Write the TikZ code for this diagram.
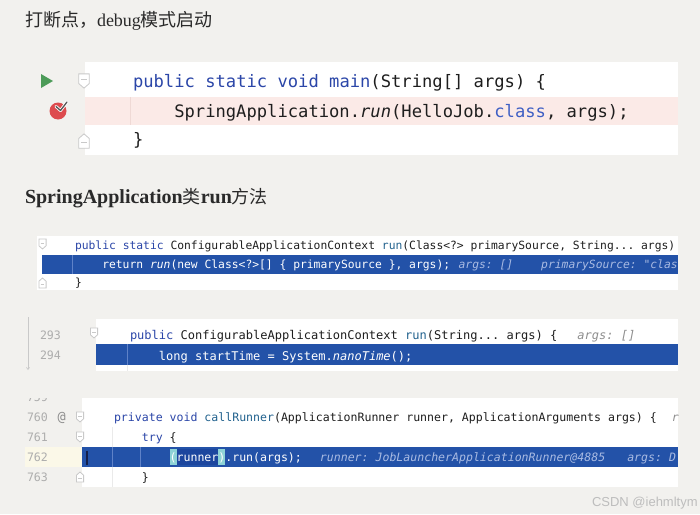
\documentclass[tikz,border=0pt]{standalone}
\usepackage{fontspec}
\setmainfont{Liberation Serif}
\setmonofont{DejaVu Sans Mono}
\newfontfamily\cjk{Noto Sans CJK SC}
\newfontfamily\wmfont{Liberation Sans}
\usetikzlibrary{arrows.meta}
\definecolor{bg}{HTML}{F2F1EE}
\definecolor{titlec}{HTML}{2A2A2A}
\definecolor{kwc}{HTML}{2B46A8}
\definecolor{kwl}{HTML}{3F5FC4}
\definecolor{fndc}{HTML}{22628E}
\definecolor{txtc}{HTML}{1E1E1E}
\definecolor{pinkrow}{HTML}{FBEAE7}
\definecolor{pinkguide}{HTML}{EFD9D5}
\definecolor{hl}{HTML}{2352A8}
\definecolor{hlguide}{HTML}{5F82C8}
\definecolor{hintc}{HTML}{A9BBE3}
\definecolor{grayhint}{HTML}{8E8E8E}
\definecolor{lnum}{HTML}{ADADAD}
\definecolor{foldc}{HTML}{C9C9C9}
\definecolor{cream}{HTML}{FBF8E8}
\definecolor{bmatch}{HTML}{8DD3D6}
\definecolor{runnerbg}{HTML}{1C469E}
\definecolor{bpred}{HTML}{DD4B4E}
\definecolor{checkgray}{HTML}{555555}
\definecolor{rungreen}{HTML}{4C9B58}
\definecolor{wmc}{HTML}{BDBDBD}
\definecolor{guidec}{HTML}{EAEAEA}
\definecolor{caretc}{HTML}{15204A}
\newcommand\kw[1]{\textcolor{kwc}{#1}}
\newcommand\kwlight[1]{\textcolor{kwl}{#1}}
\newcommand\fnd[1]{\textcolor{fndc}{#1}}
\newcommand\hnt[1]{\textcolor{hintc}{\itshape #1}}
\newcommand\ghnt[1]{\textcolor{grayhint}{\itshape #1}}
% fold markers: x, y, size
\newcommand\foldopen[3]{%
  \draw[foldc, fill=white, line width=0.8pt] (#1-0.4*#3,#2-0.55*#3) -- (#1+0.4*#3,#2-0.55*#3) -- (#1+0.4*#3,#2+0.2*#3) -- (#1,#2+0.55*#3) -- (#1-0.4*#3,#2+0.2*#3) -- cycle;
  \draw[foldc, line width=0.8pt] (#1-0.2*#3,#2-0.1*#3) -- (#1+0.2*#3,#2-0.1*#3);}
\newcommand\foldclose[3]{%
  \draw[foldc, fill=white, line width=0.8pt] (#1-0.4*#3,#2+0.55*#3) -- (#1+0.4*#3,#2+0.55*#3) -- (#1+0.4*#3,#2-0.2*#3) -- (#1,#2-0.55*#3) -- (#1-0.4*#3,#2-0.2*#3) -- cycle;
  \draw[foldc, line width=0.8pt] (#1-0.2*#3,#2+0.1*#3) -- (#1+0.2*#3,#2+0.1*#3);}
\begin{document}
\begin{tikzpicture}[x=1pt,y=-1pt,
  txt/.style={anchor=base west, inner sep=0pt, outer sep=0pt},
  codeA/.style={txt, text=txtc, font=\ttfamily\fontsize{17.15}{20}\selectfont},
  codeB/.style={txt, text=txtc, font=\ttfamily\fontsize{11.33}{13}\selectfont},
  codeC/.style={txt, text=txtc, font=\ttfamily\fontsize{12.03}{14}\selectfont},
  codeD/.style={txt, text=txtc, font=\ttfamily\fontsize{11.56}{13}\selectfont},
  lno/.style={txt, text=lnum, font=\ttfamily\fontsize{11.6}{13}\selectfont},
  hlg/.style={hlguide, line width=0.7pt},
  wg/.style={guidec, line width=0.7pt}]
\fill[bg] (0,0) rectangle (700,514);
\useasboundingbox (0,0) rectangle (700,514);

% ---------- titles
\node[txt, text=titlec, font=\fontsize{18}{20}\selectfont] (t1) at (25,26.5)
  {\cjk 打断点，\rmfamily debug\cjk 模式启动};
\node[txt, text=titlec, font=\fontsize{20}{22}\selectfont\bfseries] (t2) at (25,203)
  {SpringApplication{\cjk\mdseries\fontsize{18}{20}\selectfont 类}run{\cjk\mdseries\fontsize{18}{20}\selectfont 方法}};

% ---------- panel 1
\fill[white] (85,62) rectangle (678,155);
\fill[pinkrow] (85,97) rectangle (678,125);
\draw[pinkguide, line width=0.7pt] (130,97) -- (130,125);
\fill[rungreen] (41,74) -- (53,81) -- (41,88) -- cycle;
\fill[bpred] (58,111) circle (8.5);
\draw[white, line width=3pt, line cap=round, line join=round] (56,106.5) -- (60.5,110.5) -- (67,102);
\draw[checkgray, line width=1.3pt, line cap=round, line join=round] (56,106.5) -- (60.5,110.5) -- (67,102);
\foldopen{84}{81}{13}
\foldclose{84}{141}{13}
\node[codeA] (p1a) at (133,87) {\kw{public}~\kw{static}~\kw{void}~\kw{main}(String[]~args)~\{};
\node[codeA] (p1b) at (133,117) {~~~~SpringApplication.\textit{run}(HelloJob.\kwlight{class},~args);};
\node[codeA] (p1c) at (133,145) {\}};

% ---------- panel 2
\fill[white] (37,236) rectangle (678,290);
\fill[hl] (42,255) rectangle (678,274);
\draw[hlg] (72,255) -- (72,274);
\foldopen{42.5}{244}{9}
\foldclose{42.5}{283}{9}
\begin{scope}
\clip (37,236) rectangle (678,290);
\node[codeB] (p2a) at (75,249) {\kw{public}~\kw{static}~ConfigurableApplicationContext~\fnd{run}(Class<?>~primarySource,~String...~args)};
\node[codeB, text=white] (p2b) at (75,268) {~~~~return~\textit{run}(new~Class<?>[]~\{~primarySource~\},~args);\hspace{8.5pt}\hnt{args:~[]}\hspace{28pt}\hnt{primarySource:~"clas}};
\node[codeB] (p2c) at (75,286) {\}};
\end{scope}

% ---------- panel 3
\draw[foldc, line width=0.7pt, -{Straight Barb[length=2pt,width=3pt]}] (28,317) -- (28,370);
\fill[white] (96,319) rectangle (678,371);
\fill[hl] (96,344) rectangle (678,365);
\draw[hlg] (127,344) -- (127,365);
\draw[wg] (127,365) -- (127,371);
\foldopen{94}{333}{9}
\node[lno] (n293) at (40,339) {293};
\node[lno] (n294) at (40,359) {294};
\node[codeC] (p3a) at (130,339) {\kw{public}~ConfigurableApplicationContext~\fnd{run}(String...~args)~\{\hspace{20pt}\ghnt{args:~[]}};
\node[codeC, text=white] (p3b) at (130,360) {~~~~long~startTime~=~System.\textit{nanoTime}();};

% ---------- panel 4
\fill[white] (82,398) rectangle (678,487);
\fill[cream] (25,447) rectangle (82,467);
\fill[hl] (82,447) rectangle (678,467);
\draw[wg] (112,427) -- (112,447);
\draw[wg] (112,467) -- (112,487);
\draw[hlg] (112,447) -- (112,467);
\draw[hlg] (140,447) -- (140,467);
\fill[bmatch] (170,449) rectangle (176.6,465);
\fill[runnerbg] (176.6,449) rectangle (218.4,465);
\fill[bmatch] (218.4,449) rectangle (225,465);
\draw[caretc, line width=1.5pt] (87,450.5) -- (87,464.5);
\begin{scope}
\clip (20,398.3) rectangle (60,402);
\node[lno] (n759) at (27,401) {759};
\end{scope}
\node[lno] (n760) at (27,421) {760};
\node[lno] (n761) at (27,441) {761};
\node[lno] (n762) at (27,461) {762};
\node[lno] (n763) at (27,481) {763};
\node[txt, text=grayhint, font=\ttfamily\fontsize{13.5}{15}\selectfont] (at) at (57.5,421.5) {@};
\foldopen{80}{417}{9}
\foldopen{80}{437}{9}
\foldclose{80}{477}{9}
\begin{scope}
\clip (82,398) rectangle (678,487);
\node[codeD] (p4a) at (114,421) {\kw{private}~\kw{void}~\fnd{callRunner}(ApplicationRunner~runner,~ApplicationArguments~args)~\{\hspace{15pt}\ghnt{r}};
\node[codeD] (p4b) at (114,441) {~~~~\kw{try}~\{};
\node[codeD, text=white] (p4c) at (114,461.5) {~~~~~~~~(runner).run(args);\hspace{18pt}\hnt{runner:~JobLauncherApplicationRunner@4885}\hspace{22pt}\hnt{args:~D}};
\node[codeD] (p4d) at (114,481) {~~~~\}};
\end{scope}

% ---------- watermark
\node[txt, text=wmc, font=\wmfont\fontsize{13}{15}\selectfont] (wm) at (592,506) {CSDN @iehmltym};
\end{tikzpicture}
\end{document}
